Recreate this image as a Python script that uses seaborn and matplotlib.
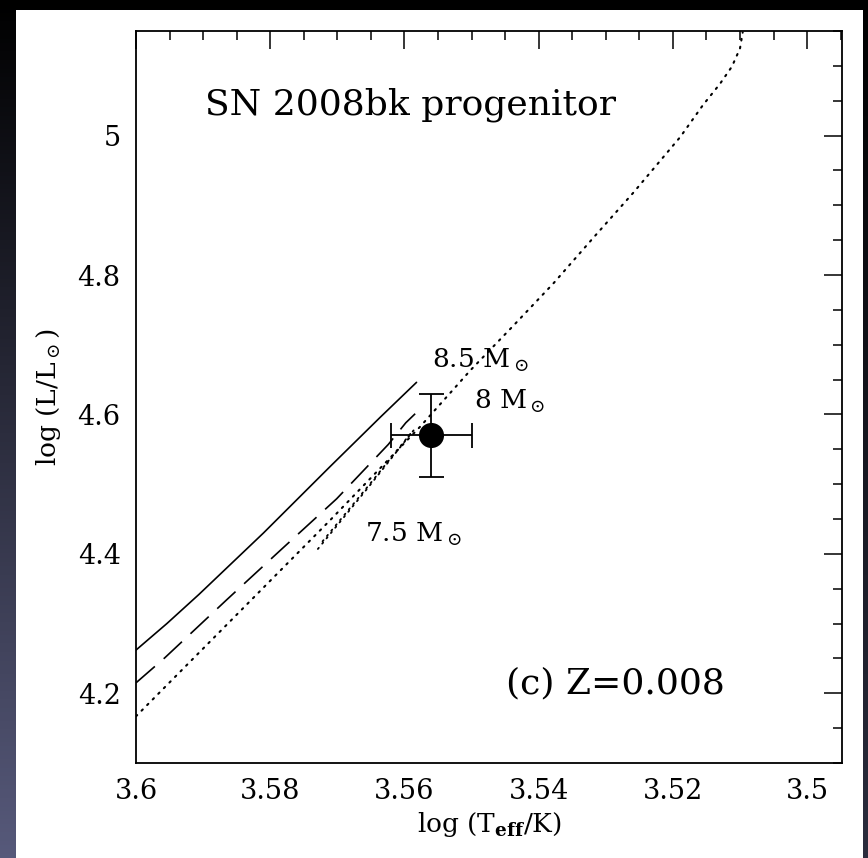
import numpy as np
import pandas as pd
import seaborn as sns
import matplotlib.pyplot as plt
from matplotlib.patches import Rectangle
from matplotlib.ticker import MultipleLocator, FormatStrFormatter

# evolutionary tracks: log Teff, log L/Lsun
teff_85 = [3.6, 3.5954, 3.5906, 3.581, 3.5711, 3.5636, 3.5582]
lum_85 = [4.262, 4.300, 4.342, 4.430, 4.525, 4.596, 4.646]

teff_80 = [3.6, 3.5957, 3.5865, 3.5785, 3.5701, 3.5624, 3.5598, 3.5584]
lum_80 = [4.215, 4.251, 4.334, 4.405, 4.479, 4.557, 4.588, 4.601]

teff_75 = [3.6, 3.586, 3.5711, 3.5577, 3.5502, 3.5438, 3.5378, 3.5318,
           3.5259, 3.5189, 3.5155, 3.5130, 3.5112, 3.5100, 3.5096]
lum_75 = [4.167, 4.303, 4.448, 4.582, 4.663, 4.727, 4.788, 4.854,
          4.918, 4.998, 5.044, 5.074, 5.099, 5.125, 5.148]

# blue loop of the 7.5 Msun track
loop_teff_a = [3.5729, 3.5655, 3.5584]
loop_lum_a = [4.407, 4.494, 4.580]
loop_teff_b = [3.5722, 3.5650, 3.5588]
loop_lum_b = [4.418, 4.502, 4.576]

# progenitor
prog_teff = [3.556]
prog_lum = [4.570]
prog_teff_err = [0.006]
prog_lum_err = [0.06]

mass_labels = ["8.5 M$_\\odot$", "8 M$_\\odot$", "7.5 M$_\\odot$"]
mass_label_x = [3.5559, 3.5497, 3.5659]
mass_label_y = [4.667, 4.608, 4.418]

sns.set_theme(style="white")
plt.rcParams['font.family'] = ['DejaVu Serif']
plt.rcParams['mathtext.fontset'] = 'dejavuserif'
plt.rcParams['text.color'] = 'black'
plt.rcParams['axes.labelcolor'] = 'black'

W, H = 868, 858
fig = plt.figure(figsize=(W / 100, H / 100), dpi=100)

# dark slide background with white panel
bg = fig.add_axes([0, 0, 1, 1], zorder=-10)
ty = np.linspace(0, 1, 200)[:, None]
tx = np.linspace(0, 1, 60)[None, :]
base = np.array([0.34, 0.35, 0.48])
img = (ty * (1 - 0.5 * tx))[..., None] * base
bg.imshow(img, extent=[0, 1, 0, 1], aspect='auto', origin='upper')
bg.add_patch(Rectangle((16 / W, 0), (863 - 16) / W, (H - 10) / H,
                       transform=bg.transAxes, facecolor='white', edgecolor='none'))
bg.set_xlim(0, 1)
bg.set_ylim(0, 1)
bg.axis('off')

ax = fig.add_axes([136 / W, (H - 763) / H, 706 / W, 732 / H])
ax.set_facecolor('white')

dot = (0, (0.8, 3.0))
df85 = pd.DataFrame({'logT': teff_85, 'logL': lum_85})
df80 = pd.DataFrame({'logT': teff_80, 'logL': lum_80})
df75 = pd.DataFrame({'logT': teff_75, 'logL': lum_75})
sns.lineplot(data=df85, x='logT', y='logL', sort=False, estimator=None,
             color='black', lw=1.2, ax=ax)
sns.lineplot(data=df80, x='logT', y='logL', sort=False, estimator=None,
             color='black', lw=1.2, linestyle=(0, (15, 7)), ax=ax)
sns.lineplot(data=df75, x='logT', y='logL', sort=False, estimator=None,
             color='black', lw=1.5, linestyle=dot, dash_capstyle='round', ax=ax)
for lx, ly in [(loop_teff_a, loop_lum_a), (loop_teff_b, loop_lum_b)]:
    sns.lineplot(x=lx, y=ly, sort=False, estimator=None, color='black',
                 lw=1.3, linestyle=dot, dash_capstyle='round', ax=ax)

ax.errorbar(prog_teff, prog_lum, xerr=prog_teff_err, yerr=prog_lum_err, fmt='none',
            ecolor='black', elinewidth=1.3, capsize=9, capthick=1.3, zorder=4)
sns.scatterplot(x=prog_teff, y=prog_lum, s=280, color='black', edgecolor='black',
                ax=ax, zorder=5)

for lab, lx, ly in zip(mass_labels, mass_label_x, mass_label_y):
    ax.text(lx, ly, lab, fontsize=19, ha='left', va='baseline')
ax.text(3.5897, 5.030, "SN 2008bk progenitor", fontsize=26, ha='left', va='baseline')
ax.text(3.5448, 4.200, "(c) Z=0.008", fontsize=26, ha='left', va='baseline')

ax.set_xlim(3.6, 3.4948)
ax.set_ylim(4.1, 5.15)
ax.xaxis.set_major_locator(MultipleLocator(0.02))
ax.xaxis.set_minor_locator(MultipleLocator(0.005))
ax.yaxis.set_major_locator(MultipleLocator(0.2))
ax.yaxis.set_minor_locator(MultipleLocator(0.05))
ax.xaxis.set_major_formatter(FormatStrFormatter('%g'))
ax.yaxis.set_major_formatter(FormatStrFormatter('%g'))
ax.tick_params(which='both', direction='in', top=True, right=True,
               colors='black', width=1.1, labelsize=19.5)
ax.tick_params(which='major', length=13)
ax.tick_params(which='minor', length=6.5)
ax.tick_params(axis='x', pad=11)
ax.tick_params(axis='y', pad=11)
for sp in ax.spines.values():
    sp.set_color('black')
    sp.set_linewidth(1.3)

ax.set_xlabel("log (T$_{\\mathbf{eff}}$/K)", fontsize=19)
ax.set_ylabel("log (L/L$_\\odot$)", fontsize=19)
ax.xaxis.set_label_coords(0.5, -0.064)
ax.yaxis.set_label_coords(-0.104, 0.5)

fig.savefig('out.png', dpi=100)
